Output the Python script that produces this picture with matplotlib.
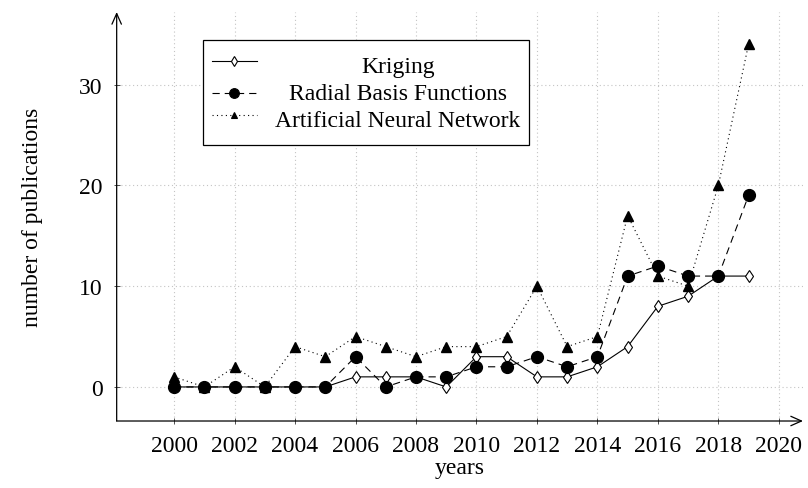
import matplotlib
matplotlib.use('Agg')
import matplotlib.pyplot as plt
from matplotlib.patches import Rectangle
from matplotlib.lines import Line2D

years = list(range(2000, 2020))
kriging = [0, 0, 0, 0, 0, 0, 1, 1, 1, 0, 3, 3, 1, 1, 2, 4, 8, 9, 11, 11]
rbf = [0, 0, 0, 0, 0, 0, 3, 0, 1, 1, 2, 2, 3, 2, 3, 11, 12, 11, 11, 19]
ann = [1, 0, 2, 0, 4, 3, 5, 4, 3, 4, 4, 5, 10, 4, 5, 17, 11, 10, 20, 34]
names = ['Kriging', 'Radial Basis Functions', 'Artificial Neural Network']
xticks = list(range(2000, 2021, 2))
yticks = [0, 10, 20, 30]

plt.rcParams['font.family'] = ['Liberation Serif', 'DejaVu Serif']
plt.rcParams['font.size'] = 17

fig = plt.figure(figsize=(8.08, 4.89), dpi=100)
ax = fig.add_axes([0.1444, 0.137, 0.8494, 0.8364])

dashed = (0, (6.5, 4.5))
dotted = (0, (1, 3))

ax.plot(years, kriging, color='black', lw=0.8, marker='d', ms=6,
        mfc='white', mec='black', mew=0.8, zorder=3)
ax.plot(years, rbf, color='black', lw=0.8, ls=dashed, marker='o', ms=8.5,
        mfc='black', mec='black', zorder=4)
ax.plot(years, ann, color='black', lw=0.8, ls=dotted, marker='^', ms=6.5,
        mfc='black', mec='black', zorder=5)

ax.set_xlim(1998.1, 2020.8)
ax.set_ylim(-3.38, 37.2)
ax.set_xticks(xticks)
ax.set_yticks(yticks)
ax.grid(True, color='#c4c4c4', ls=(0, (1, 2.5)), lw=0.8)
ax.set_axisbelow(True)
ax.tick_params(direction='inout', length=4, width=0.6, color='#333333', pad=8)

for s in ax.spines.values():
    s.set_visible(False)
arrow = dict(arrowstyle='->,head_length=0.45,head_width=0.2', lw=0.9,
             color='black', shrinkA=0, shrinkB=0)
ax.annotate('', xy=(1, 0), xytext=(0, 0), xycoords='axes fraction', arrowprops=arrow)
ax.annotate('', xy=(0, 1), xytext=(0, 0), xycoords='axes fraction', arrowprops=arrow)

ax.set_xlabel('years', labelpad=1)
ax.set_ylabel('number of publications', labelpad=26)

# legend box drawn by hand so the entries can be centred
ax.add_patch(Rectangle((0.1262, 0.6748), 0.6008 - 0.1262, 0.9315 - 0.6748,
                       transform=ax.transAxes, fill=True, fc='white',
                       ec='black', lw=0.9, zorder=6))
hx = [0.1384, 0.2040]
mx = 0.1714
rows = [0.8809, 0.8012, 0.7489]
bases = [0.8521, 0.7873, 0.7205]
styles = [dict(ls='-', marker='d', ms=5, mfc='white'),
          dict(ls=dashed, marker='o', ms=7, mfc='black'),
          dict(ls=dotted, marker='^', ms=5, mfc='black')]
for name, y, b, st in zip(names, rows, bases, styles):
    ax.add_line(Line2D(hx, [y, y], transform=ax.transAxes, color='black',
                       lw=0.8, ls=st['ls'], zorder=7))
    ax.add_line(Line2D([mx], [y], transform=ax.transAxes, ls='none',
                       marker=st['marker'], ms=st['ms'], mfc=st['mfc'],
                       mec='black', mew=0.8, zorder=8))
    ax.text(0.4099, b, name, transform=ax.transAxes, ha='center',
            va='baseline', zorder=8)

fig.savefig('out.png', dpi=100)
